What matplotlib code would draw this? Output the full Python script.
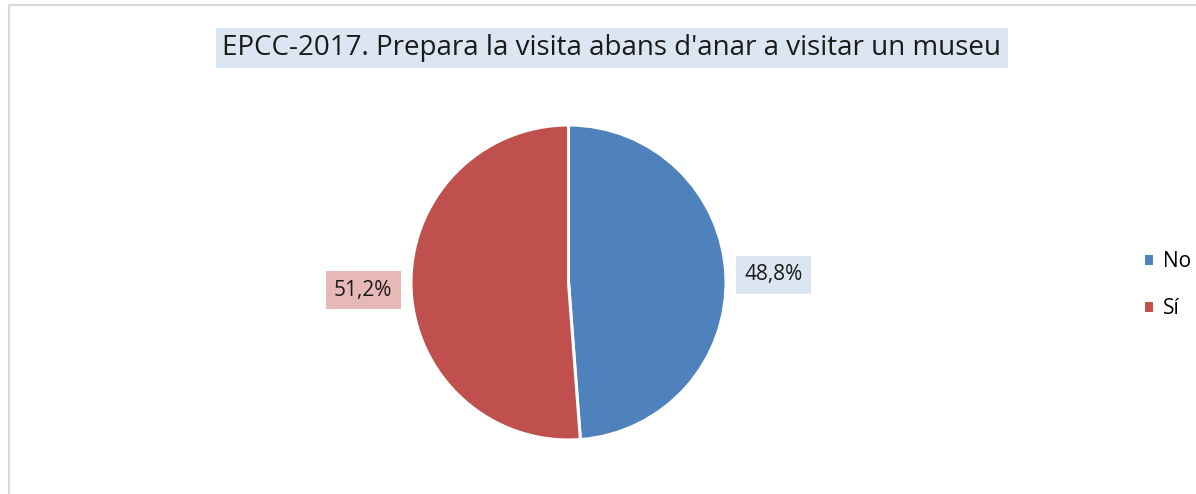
import matplotlib
matplotlib.use("Agg")
import matplotlib.pyplot as plt
from matplotlib.patches import Rectangle

plt.rcParams['font.family'] = ['Open Sans', 'DejaVu Sans']

# survey answers
categories = ["No", "Sí"]
shares = [48.8, 51.2]
colors = ["#4F81BD", "#C0504D"]
label_bg = ["#DCE6F2", "#E6B9B8"]
title = "EPCC-2017. Prepara la visita abans d'anar a visitar un museu"

W, H = 1196, 494
fig = plt.figure(figsize=(W / 100, H / 100), dpi=100)

# light grey chart frame (left and top edges visible)
fig.patches.append(Rectangle((9 / W, -0.1), 1.2, (H - 5) / H + 0.1,
                             transform=fig.transFigure, fill=False,
                             edgecolor="#D9D9D9", linewidth=1.5))

# pie area: centre (568, 282) px, radius ~157 px
cx, cy, r = 568.5, 282.5, 157.5
ax = fig.add_axes([(cx - r) / W, (H - cy - r) / H, 2 * r / W, 2 * r / H])

wedges, texts, autotexts = ax.pie(
    shares, colors=colors, startangle=90, counterclock=False,
    radius=1.0, pctdistance=1.305,
    autopct=lambda p: f"{p:.1f}%".replace(".", ","),
    wedgeprops=dict(edgecolor="white", linewidth=2.2),
    textprops=dict(fontsize=15, color="#1a1a1a"))
for t, bg in zip(autotexts, label_bg):
    t.set_bbox(dict(boxstyle="square,pad=0.4", facecolor=bg, edgecolor="none"))
ax.set_xlim(-1, 1)
ax.set_ylim(-1, 1)
ax.set_aspect("equal")
ax.axis("off")

fig.text(612 / W, 1 - 48 / H, title, ha="center", va="center",
         fontsize=20, color="#1a1a1a",
         bbox=dict(boxstyle="square,pad=0.22", facecolor="#DCE6F2",
                   edgecolor="none"))

leg = fig.legend(wedges, categories, loc="center left",
                 bbox_to_anchor=(1124 / W, 1 - 285 / H), frameon=False,
                 fontsize=15, handlelength=0.55, handleheight=0.55,
                 handletextpad=0.4, labelspacing=1.25)

fig.savefig("out.png", dpi=100)
